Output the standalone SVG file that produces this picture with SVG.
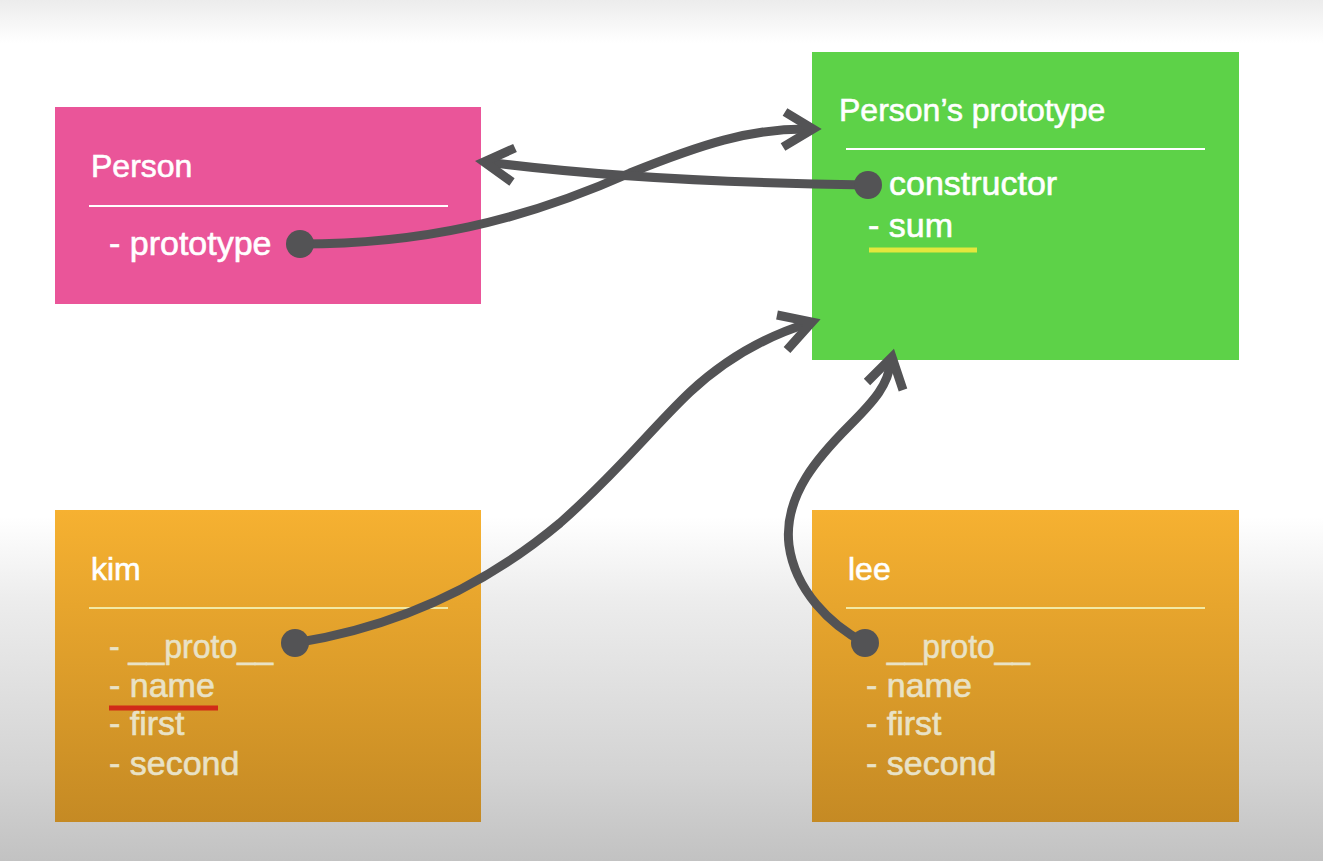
<svg xmlns="http://www.w3.org/2000/svg" width="1323" height="861" viewBox="0 0 1323 861">
  <defs>
    <linearGradient id="bg" x1="0" y1="0" x2="0" y2="1">
      <stop offset="0" stop-color="#ececec"/>
      <stop offset="0.05" stop-color="#ffffff"/>
      <stop offset="0.6" stop-color="#ffffff"/>
      <stop offset="0.7" stop-color="#ececec"/>
      <stop offset="0.9" stop-color="#d3d3d3"/>
      <stop offset="1" stop-color="#c2c2c2"/>
    </linearGradient>
    <linearGradient id="orange" x1="0" y1="0" x2="0" y2="1">
      <stop offset="0" stop-color="#f6b131"/>
      <stop offset="1" stop-color="#c58a24"/>
    </linearGradient>
  </defs>
  <style>
    .title { font-family: "Liberation Sans", Arial, sans-serif; font-size: 32px; fill: #ffffff; stroke: #ffffff; stroke-width: 0.6px; }
    .item { font-family: "Liberation Sans", Arial, sans-serif; font-size: 34px; fill: #ffffff; stroke: #ffffff; stroke-width: 0.6px; }
    .item-o { font-family: "Liberation Sans", Arial, sans-serif; font-size: 34px; fill: #e9e2c6; stroke: #e9e2c6; stroke-width: 0.6px; }
    .rule { stroke: #ffffff; stroke-width: 2; }
    .rule-o { stroke: #f2e9a4; stroke-width: 2; }
    .conn { fill: none; stroke: #535355; stroke-width: 9; stroke-linecap: butt; stroke-linejoin: miter; }
    .dot { fill: #535355; }
  </style>

  <rect x="0" y="0" width="1323" height="861" fill="url(#bg)"/>

  <g id="person">
    <rect x="55" y="107" width="426" height="197" fill="#ea5599"/>
    <text class="title" x="91" y="177">Person</text>
    <line class="rule" x1="89" y1="206" x2="448" y2="206"/>
    <text class="item" x="109" y="255">- prototype</text>
  </g>

  <g id="person-prototype">
    <rect x="812" y="52" width="427" height="308" fill="#5dd248"/>
    <text class="title" x="839" y="121">Person’s prototype</text>
    <line class="rule" x1="846" y1="149" x2="1205" y2="149"/>
    <text class="item" x="889" y="195">constructor</text>
    <text class="item" x="868" y="237">- sum</text>
    <line x1="869" y1="250" x2="977" y2="250" stroke="#f3ea3c" stroke-width="5" opacity="0.9"/>
  </g>

  <g id="kim">
    <rect x="55" y="510" width="426" height="312" fill="url(#orange)"/>
    <text class="title" x="91" y="580">kim</text>
    <line class="rule-o" x1="89" y1="608" x2="448" y2="608"/>
    <text class="item-o" x="109" y="658" textLength="164" lengthAdjust="spacingAndGlyphs">- __proto__</text>
    <text class="item-o" x="109" y="697">- name</text>
    <line x1="109" y1="708" x2="218" y2="708" stroke="#d11f17" stroke-width="5" opacity="0.9"/>
    <text class="item-o" x="109" y="735">- first</text>
    <text class="item-o" x="109" y="775">- second</text>
  </g>

  <g id="lee">
    <rect x="812" y="510" width="427" height="312" fill="url(#orange)"/>
    <text class="title" x="848" y="580">lee</text>
    <line class="rule-o" x1="846" y1="608" x2="1205" y2="608"/>
    <text class="item-o" x="887" y="658" textLength="143" lengthAdjust="spacingAndGlyphs">__proto__</text>
    <text class="item-o" x="866" y="697">- name</text>
    <text class="item-o" x="866" y="735">- first</text>
    <text class="item-o" x="866" y="775">- second</text>
  </g>

  <g id="connectors">
    <path class="conn" d="M300,244 C420,244 520,222 630,173 C700,145 750,128 810,129"/>
    <polyline class="conn" points="785,112 813,129 783,147"/>

    <path class="conn" d="M868,185 Q640,182 487,162"/>
    <polyline class="conn" points="515,148 484,162 512,182"/>

    <path class="conn" d="M295,643 C390,628 480,590 560,523 C620,470 650,430 690,392 C730,355 770,335 809,323"/>
    <polyline class="conn" points="777,315 812,322 787,350"/>

    <path class="conn" d="M865,643 C830,625 795,590 789,545 C783,495 820,455 850,425 C875,400 888,385 891,361"/>
    <polyline class="conn" points="867,382 892,357 903,390"/>

    <circle class="dot" cx="300" cy="244" r="14"/>
    <circle class="dot" cx="868" cy="185" r="14"/>
    <circle class="dot" cx="295" cy="643" r="14"/>
    <circle class="dot" cx="865" cy="643" r="14"/>
  </g>
</svg>
